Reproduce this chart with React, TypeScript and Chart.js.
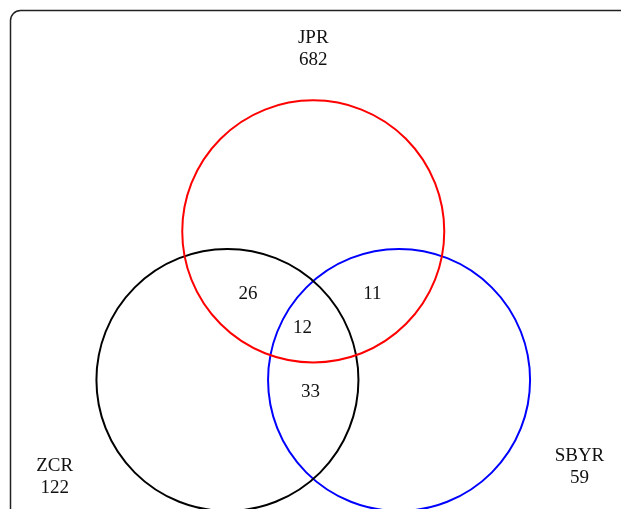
import React, { useEffect, useRef } from "react";
import { Chart, registerables } from "chart.js";

Chart.register(...registerables);

// Sets
const SETS = ["JPR", "ZCR", "SBYR"];
const SET_COUNTS = [682, 122, 59];
const SET_COLORS = ["#ff0000", "#000000", "#0000ff"];
// Circle centres (venn units, radius = 1)
const CENTER_X = [0, -0.655, 0.655];
const CENTER_Y = [1.1345, 0, 0];
const RADIUS = 1;
// Set label anchors (venn units)
const SET_LABEL_X = [0, -1.974, 2.032];
const SET_LABEL_Y = [2.57, -0.692, -0.616];
// Overlap regions
const OVERLAP_COUNTS = [26, 11, 12, 33];
const OVERLAP_X = [-0.499, 0.452, -0.082, -0.021];
const OVERLAP_Y = [0.615, 0.615, 0.359, -0.13];

const FONT = '19px "Liberation Serif", "Times New Roman", serif';

export default function App() {
  const ref = useRef<HTMLCanvasElement | null>(null);

  useEffect(() => {
    if (!ref.current) return;

    const radiusPx = (ctx: any) => {
      const s = ctx.chart.scales.x;
      return Math.abs(s.getPixelForValue(RADIUS) - s.getPixelForValue(0));
    };

    const borderPlugin = {
      id: "frame",
      beforeDraw(chart: any) {
        const c = chart.ctx;
        c.save();
        c.strokeStyle = "#222";
        c.lineWidth = 1.5;
        c.beginPath();
        c.roundRect(10.5, 10.5, 700, 600, 10);
        c.stroke();
        c.restore();
      },
    };

    const labelPlugin = {
      id: "vennLabels",
      afterDatasetsDraw(chart: any) {
        const c = chart.ctx;
        const xs = chart.scales.x;
        const ys = chart.scales.y;
        c.save();
        c.font = FONT;
        c.fillStyle = "#111";
        c.textAlign = "center";
        c.textBaseline = "alphabetic";
        SETS.forEach((name, i) => {
          const px = xs.getPixelForValue(SET_LABEL_X[i]);
          const py = ys.getPixelForValue(SET_LABEL_Y[i]);
          c.fillText(name, px, py);
          c.fillText(String(SET_COUNTS[i]), px, py + 22);
        });
        OVERLAP_COUNTS.forEach((n, i) => {
          c.fillText(
            String(n),
            xs.getPixelForValue(OVERLAP_X[i]),
            ys.getPixelForValue(OVERLAP_Y[i])
          );
        });
        c.restore();
      },
    };

    const chart = new Chart(ref.current, {
      type: "scatter",
      data: {
        datasets: SETS.map((name, i) => ({
          label: name,
          data: [{ x: CENTER_X[i], y: CENTER_Y[i] }],
          pointStyle: "circle",
          pointRadius: radiusPx,
          pointHoverRadius: radiusPx,
          pointBackgroundColor: "rgba(0,0,0,0)",
          pointBorderColor: SET_COLORS[i],
          pointBorderWidth: 2,
          showLine: false,
          clip: false as any,
        })),
      },
      options: {
        animation: false,
        responsive: false,
        events: [],
        layout: { padding: 0 },
        plugins: {
          legend: { display: false },
          tooltip: { enabled: false },
          title: { display: false },
        },
        scales: {
          x: {
            type: "linear",
            display: false,
            bounds: "data",
            min: -2.391,
            max: 2.349,
          },
          y: {
            type: "linear",
            display: false,
            bounds: "data",
            min: -0.985,
            max: 2.901,
          },
        },
      },
      plugins: [borderPlugin, labelPlugin],
    });

    return () => chart.destroy();
  }, []);

  return (
    <div
      style={{
        position: "fixed",
        left: 0,
        top: 0,
        width: 621,
        height: 509,
        background: "#fff",
      }}
    >
      <canvas
        ref={ref}
        width={621}
        height={509}
        style={{ display: "block", width: 621, height: 509 }}
      />
    </div>
  );
}
